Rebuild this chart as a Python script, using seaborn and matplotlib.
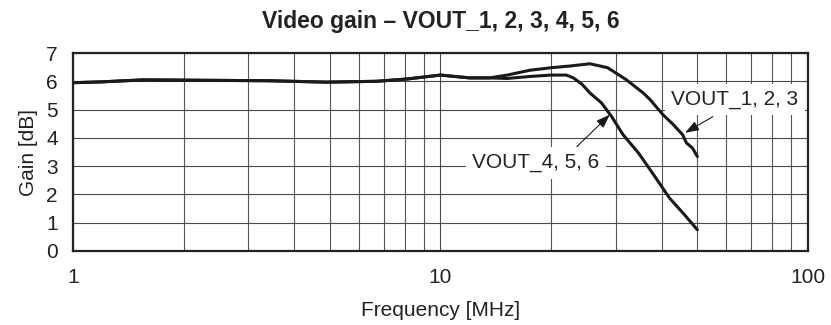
import matplotlib
matplotlib.use("Agg")
import matplotlib.pyplot as plt
from matplotlib.ticker import LogLocator, FixedLocator, FixedFormatter, NullFormatter
import seaborn as sns
import pandas as pd

# VOUT_1, 2, 3 gain response
freq_123 = [1, 1.2, 1.55, 2, 3.4, 4.9, 6.7, 8.1, 10, 12, 13.6, 15.2, 17.5, 20,
            22.5, 25.5, 28.5, 32, 35.6, 37.2, 40.3, 43, 45.6, 46.7, 48.5, 50]
gain_123 = [5.95, 5.98, 6.05, 6.04, 6.02, 5.97, 6.0, 6.08, 6.22, 6.12, 6.12, 6.22, 6.39, 6.48,
            6.54, 6.62, 6.48, 6.06, 5.59, 5.35, 4.82, 4.47, 4.11, 3.82, 3.64, 3.34]

# VOUT_4, 5, 6 gain response
freq_456 = [1, 1.2, 1.55, 2, 3.4, 4.9, 6.7, 8.1, 10, 12, 13.6, 15.2, 17.5, 20,
            22, 23, 24.3, 25.5, 27.4, 29.2, 31.4, 34.6, 38, 42, 46, 50]
gain_456 = [5.95, 5.98, 6.05, 6.04, 6.02, 5.97, 6.0, 6.08, 6.22, 6.12, 6.12, 6.10, 6.17, 6.22,
            6.22, 6.12, 5.89, 5.59, 5.24, 4.76, 4.11, 3.46, 2.70, 1.87, 1.30, 0.75]

x_ticks = [1, 10, 100]
x_tick_labels = ["1", "10", "100"]
y_ticks = [0, 1, 2, 3, 4, 5, 6, 7]

title = "Video gain \u2013 VOUT_1, 2, 3, 4, 5, 6"
label_123 = "VOUT_1, 2, 3"
label_456 = "VOUT_4, 5, 6"

sns.set_theme(style="white")
plt.rcParams["font.family"] = ["Liberation Sans", "DejaVu Sans"]

df = pd.concat([
    pd.DataFrame({"freq": freq_123, "gain": gain_123, "series": label_123}),
    pd.DataFrame({"freq": freq_456, "gain": gain_456, "series": label_456}),
])

fig = plt.figure(figsize=(8.31, 3.25), dpi=100)
ax = fig.add_axes([0.0878, 0.2277, 0.9723 - 0.0878, 0.8369 - 0.2277])

sns.lineplot(data=df, x="freq", y="gain", hue="series",
             palette=["#1a1a1a", "#1a1a1a"], linewidth=2.2,
             estimator=None, sort=False, legend=False, ax=ax, zorder=3)

ax.set_xscale("log")
ax.set_xlim(1, 100)
ax.set_ylim(0, 7)

ax.xaxis.set_major_locator(FixedLocator(x_ticks))
ax.xaxis.set_major_formatter(FixedFormatter(x_tick_labels))
ax.xaxis.set_minor_locator(LogLocator(base=10, subs=range(2, 10)))
ax.xaxis.set_minor_formatter(NullFormatter())
ax.set_yticks(y_ticks)

ax.grid(which="major", axis="both", color="#4a4a4a", linewidth=0.8, zorder=1)
ax.grid(which="minor", axis="x", color="#555555", linewidth=0.8, zorder=1)
ax.set_axisbelow(True)

ax.tick_params(axis="both", which="both", length=0, labelsize=15, colors="#222222")
ax.tick_params(axis="y", pad=11)
ax.tick_params(axis="x", pad=12)

for s in ax.spines.values():
    s.set_color("#222222")
    s.set_linewidth(1.6)
    s.set_zorder(4)

ax.set_xlabel("Frequency [MHz]", fontsize=15, color="#222222", labelpad=10)
ax.set_ylabel("Gain [dB]", fontsize=15, color="#222222", labelpad=6)
ax.set_title(title, fontsize=16.5, fontweight="bold", color="#222222", pad=18)

box = dict(boxstyle="square,pad=0.3", facecolor="white", edgecolor="none")
arrow = dict(arrowstyle="-|>,head_length=0.7,head_width=0.25", color="#1a1a1a",
             lw=0.8, shrinkA=0, shrinkB=0)

ax.text(63.3, 5.35, label_123, ha="center", va="center", fontsize=15,
        color="#222222", bbox=box, zorder=5)
ax.annotate("", xy=(46.3, 4.18), xytext=(55.1, 4.75), arrowprops=arrow, zorder=6)

ax.text(18.2, 3.12, label_456, ha="center", va="center", fontsize=15,
        color="#222222", bbox=box, zorder=5)
ax.annotate("", xy=(28.9, 4.82), xytext=(23.5, 3.69), arrowprops=arrow, zorder=6)

fig.savefig("out.png", dpi=100)
